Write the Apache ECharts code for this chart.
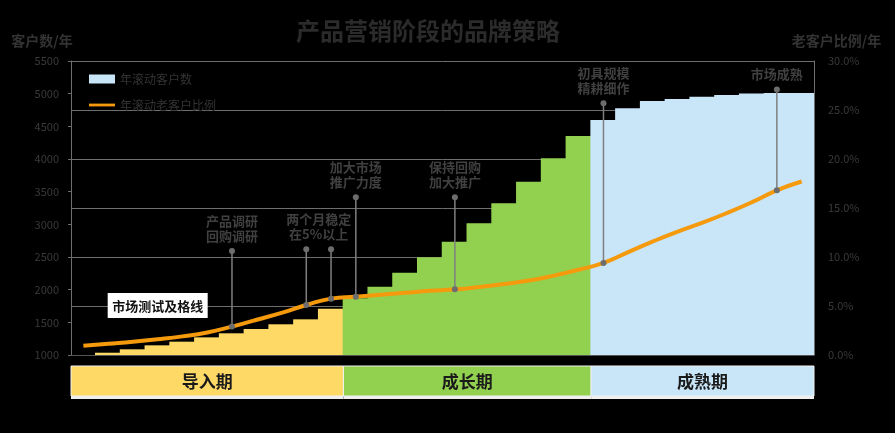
<!DOCTYPE html>
<html><head><meta charset="utf-8">
<script src="https://cdn.jsdelivr.net/npm/echarts@6/dist/echarts.min.js"></script>
<style>html,body{margin:0;padding:0;background:#000;}#c{width:895px;height:433px;}</style>
</head><body><div id="c"></div>
<script>
// ---- data ----
const categories = ['1','2','3','4','5','6','7','8','9','10','11','12','13','14','15','16','17','18','19','20','21','22','23','24','25','26','27','28','29','30'];
const customers = [1000,1035,1087,1148,1204,1270,1332,1398,1470,1546,1709,1870,2046,2260,2495,2734,3015,3321,3652,4010,4351,4596,4775,4887,4917,4952,4978,5004,5010,5010];
const oldRatio = [0.95,1.15,1.35,1.6,1.9,2.3,2.9,3.6,4.3,5.1,5.75,5.95,6.15,6.35,6.55,6.7,6.95,7.25,7.6,8.1,8.7,9.4,10.5,11.6,12.6,13.5,14.5,15.6,16.8,17.7];
const phaseNames = ['导入期','成长期','成熟期'];
const phaseStarts = [0,11,21];
const phaseEnds = [10,20,29];
const annoText = ['产品调研\n回购调研','两个月稳定\n在5%以上','加大市场\n推广力度','保持回购\n加大推广','初具规模\n精耕细作','市场成熟'];
const annoCats = [[6],[9,10],[11],[15],[21],[28]];
const annoTop = [10.6,10.8,16.1,16.1,25.7,27.1];
const passText = '市场测试及格线';
const passCat = 3;
const passValue = 5;
const seriesNames = ['年滚动客户数','年滚动老客户比例'];

// ---- chart ----
const FONT = '"Noto Sans CJK SC","Noto Sans",sans-serif';
const phaseColors = ['#FFD966','#92D050','#C9E5F8'];
const orange = '#F59A0C';
function phaseOf(i){for(let p=0;p<phaseEnds.length;p++){if(i<=phaseEnds[p])return p;}return phaseEnds.length-1;}

const chart = echarts.init(document.getElementById('c'));
chart.setOption({
  backgroundColor:'#000',
  animation:false,
  textStyle:{fontFamily:FONT},
  title:{text:'产品营销阶段的品牌策略',left:291,top:14,
    textStyle:{color:'#2b2b2b',fontSize:24,fontWeight:'bold',fontFamily:FONT}},
  legend:{orient:'vertical',left:84,top:68,itemGap:14,itemWidth:26,itemHeight:9,itemTextGap:3,
    data:[{name:seriesNames[0],icon:'rect',itemStyle:{color:phaseColors[2],borderWidth:0}},
          {name:seriesNames[1],icon:'path://M0,0 L28,0 L28,3 L0,3 Z',itemStyle:{color:orange}}],
    textStyle:{color:'#333',fontSize:12,fontFamily:FONT}},
  grid:{left:71,right:81,top:61,bottom:78},
  xAxis:{type:'category',data:categories,boundaryGap:true,
    axisLine:{show:true,lineStyle:{color:'#555'}},axisTick:{show:false},axisLabel:{show:false},splitLine:{show:false},splitArea:{show:false}},
  yAxis:[
    {type:'value',min:1000,max:5500,interval:500,position:'left',
     name:'客户数/年',nameLocation:'end',nameGap:13,
     nameTextStyle:{color:'#333',fontSize:14,fontWeight:'bold',align:'center',padding:[0,58,0,0],fontFamily:FONT},
     axisLine:{show:true,lineStyle:{color:'#6e6e6e'}},axisTick:{show:true,length:3,lineStyle:{color:'#6e6e6e'}},
     axisLabel:{color:'#3a3a3a',fontSize:11,margin:12,formatter:v=>String(v)},splitLine:{show:false}},
    {type:'value',min:0,max:30,interval:5,position:'right',
     name:'老客户比例/年',nameLocation:'end',nameGap:13,
     nameTextStyle:{color:'#333',fontSize:14,fontWeight:'bold',align:'center',padding:[0,0,0,45],fontFamily:FONT},
     axisLine:{show:true,lineStyle:{color:'#6e6e6e'}},axisTick:{show:false},
     axisLabel:{color:'#3a3a3a',fontSize:11,margin:14,formatter:v=>v.toFixed(1)+'%'},
     splitLine:{show:true,lineStyle:{color:'#6e6e6e',width:1}}}
  ],
  series:[
    {name:seriesNames[0],type:'bar',yAxisIndex:0,barWidth:'106%',
     itemStyle:{color:phaseColors[2],borderWidth:0},
     data:customers.map((v,i)=>({value:v,itemStyle:{color:phaseColors[phaseOf(i)],borderWidth:0}})),z:2},
    {name:seriesNames[1],type:'line',yAxisIndex:1,smooth:true,symbol:'none',showSymbol:false,
     lineStyle:{color:orange,width:4},itemStyle:{color:orange},data:oldRatio,z:3},
    {type:'custom',yAxisIndex:1,clip:false,z:4,silent:true,
     data:annoText.map((t,i)=>[annoCats[i][0],annoTop[i]]),
     renderItem:function(params,api){
       const k=params.dataIndex;const children=[];let sx=0;let top=0;
       annoCats[k].forEach(c=>{
         const p0=api.coord([c,annoTop[k]]);const p1=api.coord([c,oldRatio[c]]);
         sx+=p0[0];top=p0[1];
         children.push({type:'line',shape:{x1:p0[0],y1:p0[1],x2:p1[0],y2:p1[1]},style:{stroke:'#7f7f7f',lineWidth:1.5}});
         children.push({type:'circle',shape:{cx:p0[0],cy:p0[1],r:3},style:{fill:'#6d6d6d'}});
         children.push({type:'circle',shape:{cx:p1[0],cy:p1[1],r:3},style:{fill:'#6d6d6d'}});
       });
       sx/=annoCats[k].length;
       children.push({type:'text',x:sx,y:top-8,style:{text:annoText[k],fill:'#404040',font:'bold 13px '+FONT,align:'center',verticalAlign:'bottom',lineHeight:15}});
       return {type:'group',children:children};
     }},
    {type:'custom',yAxisIndex:1,clip:false,z:5,silent:true,
     data:[[passCat,passValue]],
     renderItem:function(params,api){
       const p=api.coord([passCat,passValue]);
       return {type:'group',children:[
         {type:'rect',shape:{x:p[0]-50,y:p[1]-13,width:100,height:25},style:{fill:'#fff'}},
         {type:'text',x:p[0],y:p[1],style:{text:passText,fill:'#111',font:'bold 13px '+FONT,align:'center',verticalAlign:'middle'}}
       ]};
     }},
    {type:'custom',yAxisIndex:1,clip:false,z:5,silent:true,
     data:phaseNames.map((n,i)=>[phaseStarts[i],0]),
     renderItem:function(params,api){
       const p=params.dataIndex;const w=api.size([1,0])[0];
       const a=api.coord([phaseStarts[p],0]);const b=api.coord([phaseEnds[p],0]);
       const x0=a[0]-w/2,x1=b[0]+w/2,y0=a[1]+11;
       return {type:'group',children:[
         {type:'rect',shape:{x:x0,y:y0,width:x1-x0,height:30},style:{fill:phaseColors[p],stroke:'#f2f2f2',lineWidth:1}},
         {type:'rect',shape:{x:x0,y:y0+30,width:x1-x0,height:3},style:{fill:'#eeeeee'}},
         {type:'text',x:(x0+x1)/2,y:y0+16,style:{text:phaseNames[p],fill:'#1a1a1a',font:'bold 17px '+FONT,align:'center',verticalAlign:'middle'}}
       ]};
     }}
  ]
});
</script></body></html>
